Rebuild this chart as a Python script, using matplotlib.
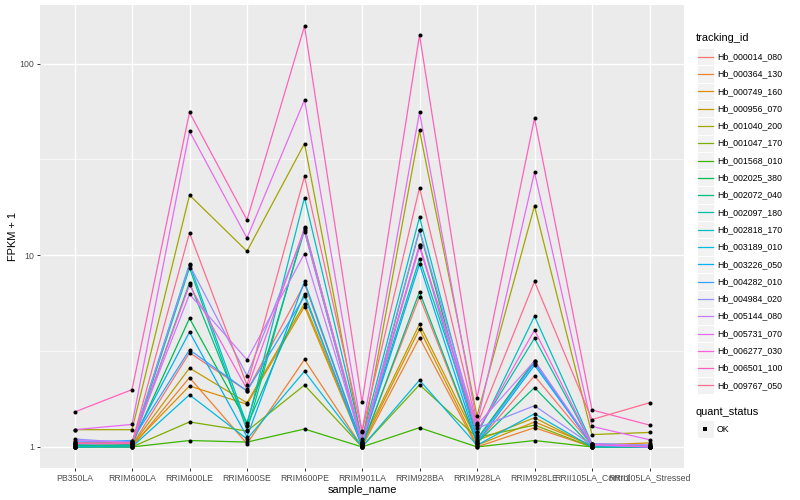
import matplotlib
matplotlib.use("Agg")
import matplotlib.pyplot as plt
from matplotlib.lines import Line2D
from matplotlib.patches import Rectangle

plt.rcParams['font.family'] = ['Liberation Sans', 'DejaVu Sans']

samples = ["PB350LA", "RRIM600LA", "RRIM600LE", "RRIM600SE", "RRIM600PE",
           "RRIM901LA", "RRIM928BA", "RRIM928LA", "RRIM928LE",
           "RRII105LA_Control", "RRII105LA_Stressed"]

genes = ["Hb_000014_080", "Hb_000364_130", "Hb_000749_160", "Hb_000956_070",
         "Hb_001040_200", "Hb_001047_170", "Hb_001568_010", "Hb_002025_380",
         "Hb_002072_040", "Hb_002097_180", "Hb_002818_170", "Hb_003189_010",
         "Hb_003226_050", "Hb_004282_010", "Hb_004984_020", "Hb_005144_080",
         "Hb_005731_070", "Hb_006277_030", "Hb_006501_100", "Hb_009767_050"]

colors = ["#F8766D", "#EA8331", "#D89000", "#C09B00", "#A3A500", "#7CAE00",
          "#39B600", "#00BB4E", "#00BF7D", "#00C1A3", "#00BFC4", "#00BAE0",
          "#00B0F6", "#35A2FF", "#9590FF", "#C77CFF", "#E76BF3", "#FA62DB",
          "#FF62BC", "#FF6C91"]

# FPKM + 1, one list per gene, in sample order
fpkm = [
    [1.00, 1.02, 3.10, 1.96, 7.10, 1.02, 6.07, 1.05, 2.35, 1.02, 1.02],
    [1.00, 1.00, 2.30, 1.04, 2.86, 1.00, 3.72, 1.00, 1.26, 1.00, 1.00],
    [1.00, 1.02, 2.08, 1.67, 5.40, 1.02, 4.12, 1.02, 1.35, 1.02, 1.05],
    [1.02, 1.02, 2.58, 1.70, 5.60, 1.05, 4.37, 1.08, 1.42, 1.00, 1.00],
    [1.23, 1.23, 20.6, 10.5, 38.3, 1.05, 44.8, 1.45, 18.1, 1.16, 1.19],
    [1.00, 1.00, 1.35, 1.21, 2.10, 1.00, 2.11, 1.12, 1.30, 1.00, 1.00],
    [1.00, 1.00, 1.08, 1.06, 1.24, 1.00, 1.26, 1.00, 1.08, 1.00, 1.00],
    [1.05, 1.03, 4.69, 1.34, 13.5, 1.02, 13.5, 1.10, 2.81, 1.02, 1.00],
    [1.02, 1.02, 7.20, 1.29, 6.30, 1.00, 6.45, 1.05, 2.04, 1.00, 1.00],
    [1.00, 1.02, 8.60, 1.22, 14.0, 1.05, 9.60, 1.20, 3.69, 1.03, 1.00],
    [1.03, 1.05, 9.00, 1.30, 20.0, 1.10, 15.8, 1.15, 4.81, 1.04, 1.02],
    [1.00, 1.00, 1.87, 1.10, 2.48, 1.00, 2.23, 1.02, 1.49, 1.00, 1.00],
    [1.04, 1.07, 3.98, 1.13, 7.30, 1.03, 9.00, 1.05, 2.67, 1.03, 1.00],
    [1.06, 1.08, 3.21, 1.96, 6.10, 1.02, 11.3, 1.08, 2.75, 1.02, 1.00],
    [1.10, 1.05, 8.90, 2.35, 13.3, 1.04, 13.6, 1.25, 1.64, 1.02, 1.00],
    [1.08, 1.06, 6.27, 2.85, 10.2, 1.06, 11.0, 1.30, 2.81, 1.04, 1.02],
    [1.23, 1.31, 44.4, 12.3, 64.7, 1.21, 55.7, 1.33, 27.1, 1.28, 1.09],
    [1.04, 1.04, 7.00, 2.00, 13.8, 1.08, 11.3, 1.20, 4.07, 1.03, 1.00],
    [1.52, 1.99, 55.7, 15.3, 157., 1.71, 141., 1.80, 51.9, 1.56, 1.30],
    [1.05, 1.05, 13.1, 2.10, 25.8, 1.20, 22.5, 1.30, 7.30, 1.39, 1.70],
]

quant_status = ["OK"]

fig = plt.figure(figsize=(8, 5), dpi=100)
ax = fig.add_axes([0.05, 0.064, 0.805, 0.926])
ax.set_facecolor("#EBEBEB")
for s in ax.spines.values():
    s.set_visible(False)

x = list(range(len(samples)))
for vals, col in zip(fpkm, colors):
    ax.plot(x, vals, color=col, lw=0.9, zorder=3)
for vals in fpkm:
    ax.plot(x, vals, ls="none", marker="o", ms=2.9, mew=0, color="black", zorder=4)

ax.set_yscale("log")
ax.set_ylim(10 ** -0.11, 10 ** 2.306)
ax.set_xlim(-0.6, len(samples) - 0.4)
ax.set_yticks([1, 10, 100])
ax.set_yticklabels(["1", "10", "100"])
ax.set_yticks([10 ** 0.5, 10 ** 1.5], minor=True)
ax.yaxis.set_minor_formatter(plt.NullFormatter())
ax.set_xticks(x)
ax.set_xticklabels(samples)

ax.grid(True, which="major", color="white", lw=1.0, zorder=0)
ax.grid(True, which="minor", axis="y", color="white", lw=0.5, zorder=0)
ax.set_axisbelow(True)
ax.tick_params(which="major", length=2, width=0.7, color="#333333",
               labelsize=6.3, labelcolor="#4D4D4D", pad=2)
ax.tick_params(which="minor", length=0)

ax.set_xlabel("sample_name", fontsize=7.9, labelpad=2)
ax.set_ylabel("FPKM + 1", fontsize=7.9, labelpad=1)

# legend drawn by hand, in pixel coords of the 800x500 figure
def fy(py):
    return 1 - py / 500.0

def fx(px):
    return px / 800.0

fig.text(fx(696), fy(38), "tracking_id", fontsize=7.9, va="center", ha="left")
key = 17.3
for i, (g, col) in enumerate(zip(genes, colors)):
    yc = 56.7 + i * key
    fig.add_artist(Rectangle((fx(696.5), fy(yc + key / 2)), key / 800.0, key / 500.0,
                             transform=fig.transFigure, facecolor="#F2F2F2",
                             edgecolor="white", lw=0.7))
    fig.add_artist(Line2D([fx(698), fx(712.5)], [fy(yc), fy(yc)],
                          transform=fig.transFigure, color=col, lw=0.9))
    fig.text(fx(717), fy(yc), g, fontsize=6.3, va="center", ha="left")

fig.text(fx(696), fy(412), "quant_status", fontsize=7.9, va="center", ha="left")
for j, q in enumerate(quant_status):
    yc = 429 + j * key
    fig.add_artist(Rectangle((fx(696.5), fy(yc + key / 2)), key / 800.0, key / 500.0,
                             transform=fig.transFigure, facecolor="#F2F2F2",
                             edgecolor="white", lw=0.7))
    fig.add_artist(Line2D([fx(705)], [fy(yc)], transform=fig.transFigure,
                          ls="none", marker="s", ms=2.5, mew=0, color="black"))
    fig.text(fx(717), fy(yc), q, fontsize=6.3, va="center", ha="left")

fig.savefig("out.png", dpi=100)
